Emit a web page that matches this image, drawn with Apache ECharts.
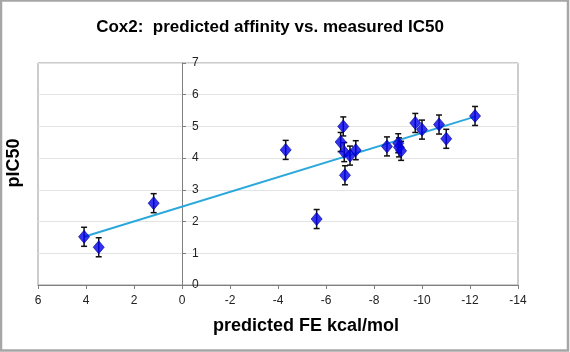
<!DOCTYPE html>
<html>
<head>
<meta charset="utf-8">
<script src="https://cdn.jsdelivr.net/npm/echarts@6/dist/echarts.min.js"></script>
<style>
  html, body { margin: 0; padding: 0; background: #fff; }
  #main { width: 570px; height: 352px; }
</style>
</head>
<body>
<div id="main"></div>
<script>
// predicted FE (kcal/mol) and measured pIC50
var feValues = [4.08, 3.47, 1.18, -4.32, -5.61, -6.72, -6.61, -6.76, -6.79, -7.0,
                -7.24, -8.54, -9.01, -9.04, -9.13, -9.72, -10.0, -10.71, -11.01, -12.21];
var pic50Values = [1.52, 1.19, 2.58, 4.26, 2.08, 5.0, 4.51, 4.19, 3.46, 4.08,
                   4.25, 4.37, 4.47, 4.34, 4.23, 5.11, 4.90, 5.06, 4.61, 5.33];
var errBar = 0.3;
// trend line ends
var trendX = [4.08, -12.21];
var trendY = [1.52, 5.31];

var chart = echarts.init(document.getElementById('main'));

var points = feValues.map(function (x, i) { return [x, pic50Values[i]]; });
var errData = feValues.map(function (x, i) {
    return [x, pic50Values[i] - errBar, pic50Values[i] + errBar];
});
var trendData = trendX.map(function (x, i) { return [x, trendY[i]]; });

var fontFam = '"Liberation Sans", Arial, sans-serif';

option = {
    animation: false,
    title: {
        text: 'Cox2:  predicted affinity vs. measured IC50',
        left: 265,
        top: 14,
        textAlign: 'center',
        textStyle: { fontFamily: fontFam, fontSize: 17, fontWeight: 'bold', color: '#000' }
    },
    grid: {
        left: 38, right: 52, top: 63, bottom: 67,
        show: true, borderColor: '#999', borderWidth: 1
    },
    xAxis: {
        type: 'value',
        min: -14, max: 6, interval: 2,
        inverse: true,
        axisLine: { onZero: false, lineStyle: { color: '#808080' } },
        axisTick: { show: true, length: 4, lineStyle: { color: '#808080' } },
        axisLabel: { margin: 10, color: '#222', fontSize: 12, fontFamily: fontFam },
        splitLine: { show: false }
    },
    yAxis: {
        type: 'value',
        min: 0, max: 7, interval: 1,
        // the y axis crosses at x = 0 (144 px right of the grid's left edge)
        offset: -144,
        axisLine: { show: true, onZero: false, lineStyle: { color: '#808080' } },
        axisTick: { show: true, inside: true, length: 4, lineStyle: { color: '#808080' } },
        axisLabel: { inside: true, margin: 10, color: '#222', fontSize: 12, fontFamily: fontFam },
        splitLine: { show: true, lineStyle: { color: '#e3e3e3' } }
    },
    graphic: [
        {
            type: 'text', left: 213, top: 317, z: 10,
            style: { text: 'predicted FE kcal/mol', font: 'bold 18px ' + fontFam, fill: '#000' }
        },
        {
            type: 'text', x: 14, y: 163, rotation: Math.PI / 2, z: 10,
            style: { text: 'pIC50', font: 'bold 18px ' + fontFam, fill: '#000',
                     align: 'center', verticalAlign: 'middle' }
        },
        {
            type: 'rect', z: 100, silent: true,
            shape: { x: 1, y: 0.5, width: 567, height: 350 },
            style: { fill: 'none', stroke: '#a6a6a6', lineWidth: 2.5 }
        }
    ],
    series: [
        {
            type: 'line',
            data: trendData,
            symbol: 'none',
            lineStyle: { color: '#2aa8dc', width: 2 },
            z: 2
        },
        {
            type: 'custom',
            data: errData,
            z: 3,
            renderItem: function (params, api) {
                var lo = api.coord([api.value(0), api.value(1)]);
                var hi = api.coord([api.value(0), api.value(2)]);
                var cap = 3;
                var st = { stroke: '#111', lineWidth: 1.5 };
                return {
                    type: 'group',
                    children: [
                        { type: 'line', shape: { x1: lo[0], y1: lo[1], x2: hi[0], y2: hi[1] }, style: st },
                        { type: 'line', shape: { x1: lo[0] - cap, y1: lo[1], x2: lo[0] + cap, y2: lo[1] }, style: st },
                        { type: 'line', shape: { x1: hi[0] - cap, y1: hi[1], x2: hi[0] + cap, y2: hi[1] }, style: st }
                    ]
                };
            }
        },
        {
            type: 'scatter',
            data: points,
            symbol: 'diamond',
            symbolSize: [11, 13],
            itemStyle: { color: '#0000ee', borderColor: '#00008a', borderWidth: 0.8 },
            z: 4
        }
    ]
};

chart.setOption(option);
</script>
</body>
</html>
